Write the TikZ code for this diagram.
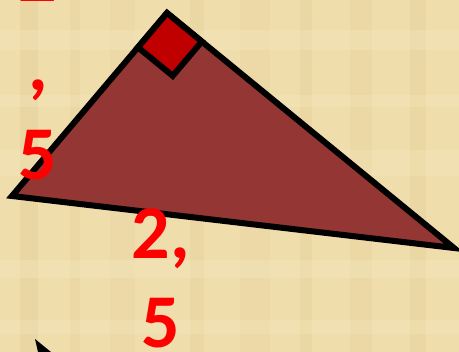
\documentclass[tikz,border=0pt]{standalone}
\usepackage{fontspec}
\usetikzlibrary{calc}
\newfontfamily\numfont{Carlito}[UprightFont=* Bold]
\definecolor{parch}{RGB}{239,221,172}
\definecolor{parchdark}{RGB}{226,203,148}
\definecolor{parchlight}{RGB}{246,232,190}
\definecolor{trifill}{RGB}{148,54,52}
\definecolor{sqfill}{RGB}{192,0,0}
\definecolor{numred}{RGB}{255,0,0}
\tikzset{
  edge/.style={line width=6pt, line join=miter, draw=black},
  numtext/.style={text=numred, inner sep=0pt, align=center,
    font=\numfont\fontsize{76}{89}\selectfont},
}
\begin{document}
\begin{tikzpicture}[x=1pt,y=-1pt]
\useasboundingbox (0,0) rectangle (459,352);
% parchment background
\fill[parch] (0,0) rectangle (459,352);
\foreach \x/\w/\o in {20/18/0.35,70/10/0.25,110/25/0.2,190/14/0.3,240/30/0.2,300/12/0.3,350/22/0.25,410/16/0.3}
  \fill[parchdark,opacity=\o] (\x,0) rectangle (\x+\w,352);
\foreach \y/\h/\o in {30/20/0.35,95/12/0.3,150/26/0.3,260/18/0.35,320/14/0.3}
  \fill[parchlight,opacity=\o] (0,\y) rectangle (459,\y+\h);
% triangle
\coordinate (T) at (167,13);
\coordinate (L) at (12,196);
\coordinate (R) at (454,248);
\draw[edge, fill=trifill] (T) -- (L) -- (R) -- cycle;
% right angle square
\coordinate (SA) at ($(T)!45pt!(L)$);
\coordinate (SB) at ($(T)!45pt!(R)$);
\draw[edge, fill=sqfill] (T) -- (SA) -- ($(SA)+(SB)-(T)$) -- (SB) -- cycle;
% labels
\node[numtext, anchor=south] (lab1) at (38,180) {2\\,\\5};
\node[numtext, anchor=south] (lab2) at (161,348) {2,\\5};
% arrow tip fragment
\fill[black] (35,339) -- (38,352) -- (51,352) -- cycle;
\end{tikzpicture}
\end{document}
